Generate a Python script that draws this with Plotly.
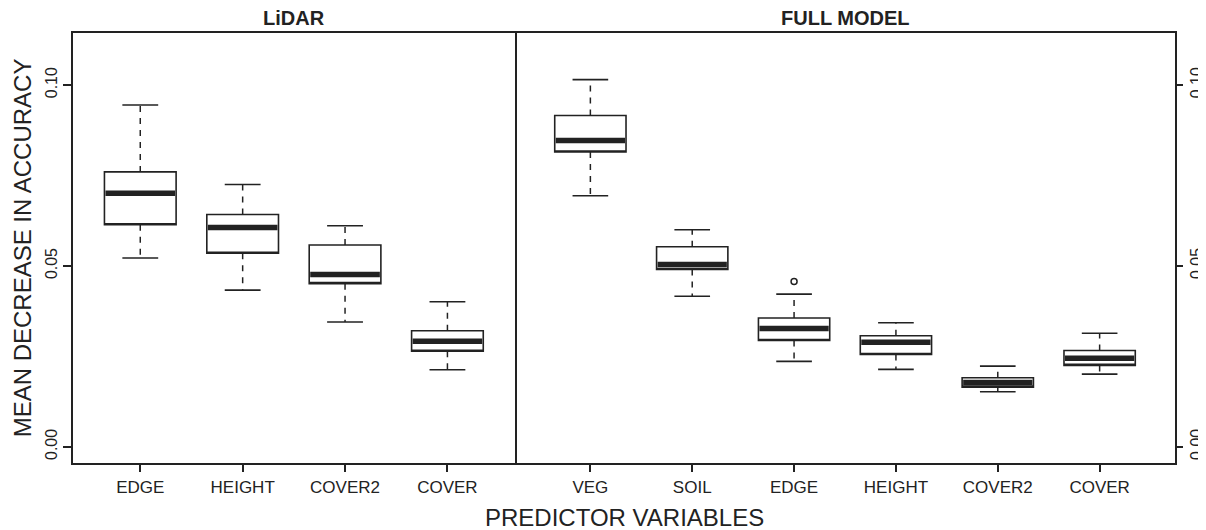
import plotly.graph_objects as go

# ---- data ----
lidar_cats = ["EDGE", "HEIGHT", "COVER2", "COVER"]
lidar_lower = [0.0522, 0.0433, 0.0345, 0.0213]
lidar_q1 = [0.0614, 0.0535, 0.0451, 0.0264]
lidar_med = [0.0701, 0.0606, 0.0476, 0.0292]
lidar_q3 = [0.0760, 0.0642, 0.0558, 0.0321]
lidar_upper = [0.0945, 0.0725, 0.0611, 0.0401]
lidar_outliers = [[], [], [], []]

full_cats = ["VEG", "SOIL", "EDGE", "HEIGHT", "COVER2", "COVER"]
full_lower = [0.0694, 0.0416, 0.0236, 0.0214, 0.0152, 0.0201]
full_q1 = [0.0815, 0.0490, 0.0294, 0.0255, 0.0165, 0.0225]
full_med = [0.0847, 0.0504, 0.0327, 0.0289, 0.0178, 0.0245]
full_q3 = [0.0916, 0.0553, 0.0356, 0.0307, 0.0191, 0.0266]
full_upper = [0.1015, 0.0600, 0.0422, 0.0343, 0.0223, 0.0314]
full_outliers = [[], [], [0.0457], [], [], []]

y_ticks = [0.00, 0.05, 0.10]
y_ticktext = ["0.00", "0.05", "0.10"]

# ---- style ----
INK = "#222222"
BOX_W = 0.7
CAP_HALF = 0.175
OFF = 8                      # default page body margin
W, H = 1206 - OFF, 530 - OFF
FONT = "Liberation Sans, Arial, Helvetica, sans-serif"


def fx(X):
    return (X - OFF) / W


def fy(Y):
    return (H - (Y - OFF)) / H


fig = go.Figure()


def add_panel(cats, lower, q1, med, q3, upper, outliers, xa, ya):
    pos = list(range(1, len(cats) + 1))
    fig.add_trace(go.Box(
        x=pos, q1=q1, median=q1, q3=q3, lowerfence=q1, upperfence=q3,
        width=BOX_W, fillcolor="white", line=dict(color=INK, width=1.6),
        xaxis=xa, yaxis=ya, showlegend=False, hoverinfo="skip"))
    wx, wy = [], []
    for p, lo, a, b, hi in zip(pos, lower, q1, q3, upper):
        wx += [p, p, None, p, p, None]
        wy += [b, hi, None, a, lo, None]
    fig.add_trace(go.Scatter(x=wx, y=wy, mode="lines",
                             line=dict(color=INK, width=1.5, dash="6px,6px"),
                             xaxis=xa, yaxis=ya, showlegend=False, hoverinfo="skip"))
    sx, sy = [], []
    for p, lo, hi in zip(pos, lower, upper):
        sx += [p - CAP_HALF, p + CAP_HALF, None, p - CAP_HALF, p + CAP_HALF, None]
        sy += [hi, hi, None, lo, lo, None]
    fig.add_trace(go.Scatter(x=sx, y=sy, mode="lines",
                             line=dict(color=INK, width=1.6),
                             xaxis=xa, yaxis=ya, showlegend=False, hoverinfo="skip"))
    mx, my = [], []
    for p, m in zip(pos, med):
        mx += [p - BOX_W / 2 + 0.01, p + BOX_W / 2 - 0.01, None]
        my += [m, m, None]
    fig.add_trace(go.Scatter(x=mx, y=my, mode="lines",
                             line=dict(color=INK, width=5.5),
                             xaxis=xa, yaxis=ya, showlegend=False, hoverinfo="skip"))
    ox, oy = [], []
    for p, outs in zip(pos, outliers):
        for o in outs:
            ox.append(p)
            oy.append(o)
    if ox:
        fig.add_trace(go.Scatter(x=ox, y=oy, mode="markers",
                                 marker=dict(symbol="circle-open", size=6, color=INK,
                                             line=dict(width=1.5)),
                                 xaxis=xa, yaxis=ya, showlegend=False, hoverinfo="skip"))


add_panel(lidar_cats, lidar_lower, lidar_q1, lidar_med, lidar_q3, lidar_upper,
          lidar_outliers, "x", "y")
add_panel(full_cats, full_lower, full_q1, full_med, full_q3, full_upper,
          full_outliers, "x2", "y2")

y_dom = [fy(462.7), fy(33.0)]
y_rng = [-0.0044, 0.1144]
n1, n2 = len(lidar_cats), len(full_cats)
pad1 = n1 * 0.04
pad2 = n2 * 0.04
MID = 515.0

axis_common = dict(showline=True, linecolor=INK, linewidth=1.5,
                   showgrid=False, zeroline=False, ticks="outside",
                   tickcolor=INK, tickwidth=1.5, automargin=False)
xfont = dict(family=FONT, size=17, color=INK)
yfont = dict(family=FONT, size=16, color=INK)

fig.update_layout(
    width=W, height=H,
    margin=dict(l=0, r=0, t=0, b=0),
    paper_bgcolor="white", plot_bgcolor="white",
    boxmode="overlay",
    xaxis=dict(domain=[fx(72.7), fx(MID)],
               range=[0.5 - pad1, n1 + 0.5 + pad1],
               tickvals=list(range(1, n1 + 1)), ticktext=lidar_cats,
               anchor="y", mirror=True, ticklen=8, tickfont=xfont, **axis_common),
    yaxis=dict(domain=y_dom, range=y_rng, tickvals=y_ticks, ticktext=y_ticktext,
               tickangle=-90, anchor="x", mirror=True, ticklen=8,
               tickfont=yfont, **axis_common),
    xaxis2=dict(domain=[fx(MID), fx(1175.0)],
                range=[0.5 - pad2, n2 + 0.5 + pad2],
                tickvals=list(range(1, n2 + 1)), ticktext=full_cats,
                anchor="y2", mirror=True, ticklen=8, tickfont=xfont, **axis_common),
    yaxis2=dict(domain=y_dom, range=y_rng, tickvals=y_ticks, ticktext=y_ticktext,
                tickangle=-90, side="right", anchor="x2", mirror=False, ticklen=6,
                tickfont=yfont, **axis_common),
    annotations=[
        dict(text="<b>LiDAR</b>", xref="x domain", yref="y domain", x=0.5, y=1,
             yanchor="bottom", yshift=2, showarrow=False,
             font=dict(family=FONT, size=20, color=INK)),
        dict(text="<b>FULL MODEL</b>", xref="x2 domain", yref="y2 domain", x=0.5, y=1,
             yanchor="bottom", yshift=2, showarrow=False,
             font=dict(family=FONT, size=20, color=INK)),
        dict(text="MEAN DECREASE IN ACCURACY", xref="paper", yref="paper",
             x=fx(22.5), y=(y_dom[0] + y_dom[1]) / 2, textangle=-90,
             xanchor="center", yanchor="middle", showarrow=False,
             font=dict(family=FONT, size=24, color=INK)),
        dict(text="PREDICTOR VARIABLES", xref="paper", yref="paper",
             x=fx(624), y=fy(517), xanchor="center", yanchor="middle",
             showarrow=False, font=dict(family=FONT, size=24, color=INK)),
    ],
)

fig.write_html("out.html")
